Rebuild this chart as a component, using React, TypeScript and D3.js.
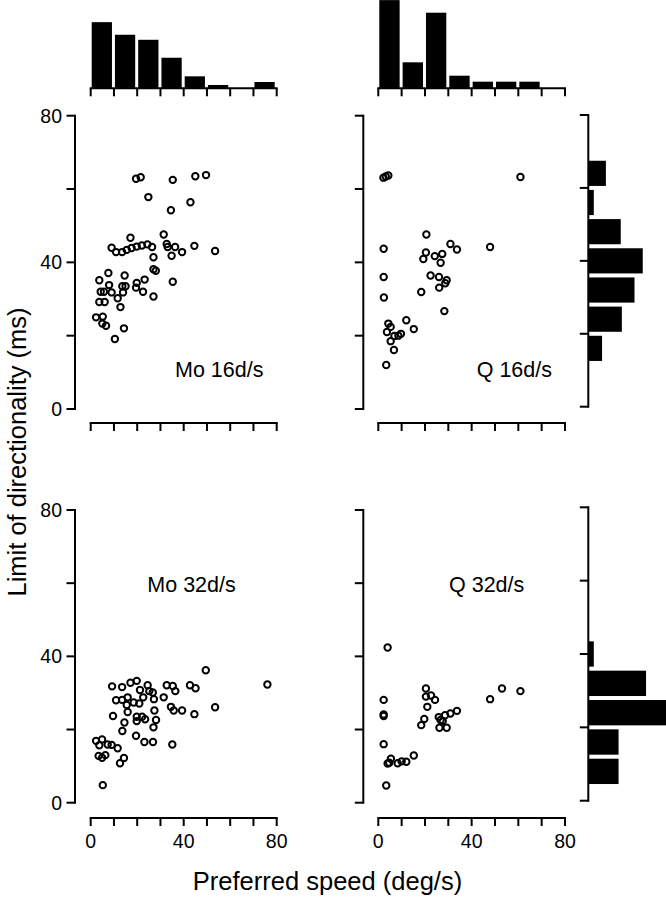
import React from 'react';
import * as d3 from 'd3';

// ---------- data ----------
const xTicks = [0, 10, 20, 30, 40, 50, 60, 70, 80];
const xTickLabels = [0, 40, 80];
const yTicks = [0, 20, 40, 60, 80];
const yTickLabels = [0, 40, 80];

const speedBinEdges = [0, 10, 20, 30, 40, 50, 60, 70, 80];
const moSpeedHist = [21, 17, 15.4, 9.7, 3.8, 1.05, 0, 2];
const qSpeedHist = [28, 8.25, 24, 4, 2.1, 2.1, 2.1, 0];

const limitBinWidth = 8;
const q16LimitBinStarts = [12, 20, 28, 36, 44, 52, 60];
const q16LimitHist = [2.5, 6.1, 8.4, 9.9, 5.9, 1.0, 3.2];
const q32LimitBinStarts = [4, 12, 20, 28, 36];
const q32LimitHist = [5.5, 5.5, 14.5, 10.5, 1.0];

const mo16Points: [number, number][] = [
  [19.5, 62.8], [21.5, 63.2], [35.3, 62.5], [45, 63.5], [49.6, 63.8], [24.8, 57.8], [42.9, 56.4],
  [34.5, 54.2], [17.1, 46.7], [31.4, 47.6], [9, 44], [10.9, 42.8], [13.5, 42.8], [15.5, 43.4],
  [17.6, 43.9], [19.8, 44.3], [22, 44.6], [24.4, 44.9], [26.4, 44.2], [27, 41.4], [32.7, 45],
  [33.1, 44.2], [36.3, 44.2], [34.8, 41.8], [39.3, 42.8], [44.6, 44.5], [53.5, 43.1], [27, 38.1],
  [28, 37.7], [35.3, 34.7], [3.7, 35.1], [7.6, 37.1], [7.9, 33.8], [4.3, 32], [5.7, 32], [9, 31.8],
  [3.7, 29.2], [6, 29.2], [11.6, 30.2], [12.8, 27.8], [13.6, 33.5], [14.6, 36.4], [15, 33.5],
  [13.9, 31.8], [19.8, 34.4], [19.5, 33.1], [23.2, 35.3], [22.5, 32], [27, 30.7], [2.3, 25],
  [5.2, 25.2], [5, 23.3], [6.6, 22.7], [14.3, 22], [10.4, 19.1],
];

const q16Points: [number, number][] = [
  [2.2, 63.1], [3.2, 63.4], [4.3, 63.7], [60.9, 63.3], [20.6, 47.6], [2.3, 43.7], [30.9, 45],
  [33.7, 43.5], [47.9, 44.2], [20.4, 42.7], [19.3, 40.9], [24.2, 41.7], [27.4, 42.3], [26.7, 39.9],
  [2.3, 36], [22.4, 36.4], [26, 36], [29.3, 35.1], [28.7, 34.3], [26.1, 33.1], [18.4, 31.9],
  [2.4, 30.4], [28.3, 26.7], [4.3, 23.3], [5.3, 22.4], [3.7, 21], [6.9, 19.9], [8.6, 20],
  [9.7, 20.5], [12, 24.2], [15.2, 21.8], [5.3, 18.5], [6.7, 16.1], [3.4, 12],
];

const mo32Points: [number, number][] = [
  [49.5, 36.2], [76, 32.3], [9.2, 31.8], [13.5, 31.6], [17.1, 32.8], [19.8, 33.3], [21.2, 30.8],
  [24.5, 32.1], [25.2, 30.5], [26.7, 30.1], [32.7, 32.1], [35.3, 31.9], [36.4, 30.5], [42.7, 32.1],
  [45.1, 31.3], [10.9, 28], [13.5, 28.1], [15.9, 28.8], [15.5, 26.7], [18.5, 27.4], [20.9, 27.1],
  [22.6, 28.8], [27.2, 28.3], [31.4, 28.8], [15.9, 24.8], [19.8, 23.5], [22.1, 23.5], [23.4, 22.8],
  [19.8, 22.3], [27.4, 25.2], [28.1, 22.6], [27, 20.6], [34.5, 26.2], [35.7, 25.2], [39.3, 25.2],
  [44.6, 24.2], [53.5, 26.1], [9.6, 23.7], [14.5, 21.9], [13.6, 19.6], [19.5, 18.3], [23.1, 16.6],
  [26.8, 16.6], [35.1, 15.9], [2.3, 16.9], [4.9, 17.3], [3.7, 15.7], [7.3, 15.9], [9, 15.8],
  [11.6, 14.9], [3.4, 12.8], [4.9, 12.3], [6.3, 13], [14.3, 12.2], [12.6, 10.8], [5.2, 4.8],
];

const q32Points: [number, number][] = [
  [4, 42.4], [2.3, 28.1], [2.3, 24.1], [2.3, 23.7], [2.3, 16], [3.4, 4.7], [20.4, 31.2], [20.4, 29],
  [22.6, 29.3], [24.3, 28.1], [21, 26.2], [19.7, 22.9], [18.4, 21.2], [25.9, 23.4], [26.7, 22.6],
  [28.6, 23.9], [30.9, 24.4], [33.7, 25.1], [26.2, 20.5], [29.3, 20.5], [27.6, 22.3], [47.9, 28.3],
  [53, 31.2], [60.9, 30.5], [4, 10.7], [5.4, 12], [4.7, 10.9], [8.3, 10.8], [10, 11.3], [12, 11.2],
  [15.2, 12.9],
];

// ---------- scales ----------
const xMo = d3.scaleLinear().domain([0, 80]).range([90.7, 276.7]);
const xQ = d3.scaleLinear().domain([0, 80]).range([378.3, 565]);
const yTop = d3.scaleLinear().domain([0, 80]).range([409, 115.7]);
const yBot = d3.scaleLinear().domain([0, 80]).range([802.7, 510]);
const yHistTop = d3.scaleLinear().domain([0, 80]).range([406.7, 115]);
const yHistBot = d3.scaleLinear().domain([0, 80]).range([800.7, 507.3]);
const topHistH = d3.scaleLinear().domain([0, 1]).range([0, 3.15]);
const rightHistW = d3.scaleLinear().domain([0, 1]).range([0, 5.5]);

const FONT = "'Liberation Sans', Arial, Helvetica, sans-serif";
const SW = 2;

function YAxis({ scale, x, labels }: { scale: d3.ScaleLinear<number, number>; x: number; labels: boolean }) {
  const [y0, y1] = scale.range();
  return (
    <g>
      <line x1={x} x2={x} y1={y0 + SW / 2} y2={y1 - SW / 2} stroke="#000" strokeWidth={SW} />
      {yTicks.map((t) => (
        <line key={t} x1={x - 8.5} x2={x} y1={scale(t)} y2={scale(t)} stroke="#000" strokeWidth={SW} />
      ))}
      {labels &&
        yTickLabels.map((t) => (
          <text key={'l' + t} x={x - 13} y={scale(t) + 7} textAnchor="end" fontSize={19.5} fontFamily={FONT}>
            {t}
          </text>
        ))}
    </g>
  );
}

function XAxis({ scale, y, labels }: { scale: d3.ScaleLinear<number, number>; y: number; labels: boolean }) {
  const [x0, x1] = scale.range();
  return (
    <g>
      <line x1={x0 - SW / 2} x2={x1 + SW / 2} y1={y} y2={y} stroke="#000" strokeWidth={SW} />
      {xTicks.map((t) => (
        <line key={t} x1={scale(t)} x2={scale(t)} y1={y} y2={y + 8} stroke="#000" strokeWidth={SW} />
      ))}
      {labels &&
        xTickLabels.map((t) => (
          <text key={'l' + t} x={scale(t)} y={y + 30} textAnchor="middle" fontSize={19.5} fontFamily={FONT}>
            {t}
          </text>
        ))}
    </g>
  );
}

function Scatter({ pts, xs, ys }: { pts: [number, number][]; xs: d3.ScaleLinear<number, number>; ys: d3.ScaleLinear<number, number> }) {
  return (
    <g>
      {pts.map((p, i) => (
        <circle key={i} cx={xs(p[0])} cy={ys(p[1])} r={3.2} fill="none" stroke="#000" strokeWidth={2} />
      ))}
    </g>
  );
}

function TopHist({ counts, xs }: { counts: number[]; xs: d3.ScaleLinear<number, number> }) {
  const base = 88.3;
  return (
    <g>
      {counts.map((c, i) =>
        c > 0 ? (
          <rect
            key={i}
            x={xs(speedBinEdges[i]) + 1}
            width={xs(speedBinEdges[i + 1]) - xs(speedBinEdges[i]) - 3}
            y={base - topHistH(c)}
            height={topHistH(c)}
            fill="#000"
          />
        ) : null
      )}
      <XAxis scale={xs} y={base} labels={false} />
    </g>
  );
}

function RightHist({ starts, counts, ys }: { starts: number[]; counts: number[]; ys: d3.ScaleLinear<number, number> }) {
  const ax = 588.3;
  return (
    <g>
      {counts.map((c, i) => {
        const yA = ys(starts[i] + limitBinWidth);
        const yB = ys(starts[i]);
        return <rect key={i} x={ax} y={yA + 2} width={rightHistW(c)} height={yB - yA - 4} fill="#000" />;
      })}
      <YAxis scale={ys} x={ax} labels={false} />
    </g>
  );
}

export default function App() {
  return (
    <svg width={666} height={900} style={{ position: 'absolute', left: 0, top: 0, background: '#fff' }}>
      <rect width={666} height={900} fill="#fff" />
      <TopHist counts={moSpeedHist} xs={xMo} />
      <TopHist counts={qSpeedHist} xs={xQ} />

      {/* top row */}
      <YAxis scale={yTop} x={75} labels={true} />
      <XAxis scale={xMo} y={423} labels={false} />
      <Scatter pts={mo16Points} xs={xMo} ys={yTop} />
      <text x={175} y={376.7} fontSize={21.5} fontFamily={FONT}>Mo 16d/s</text>

      <YAxis scale={yTop} x={363.3} labels={false} />
      <XAxis scale={xQ} y={423} labels={false} />
      <Scatter pts={q16Points} xs={xQ} ys={yTop} />
      <text x={476.7} y={376.7} fontSize={21.5} fontFamily={FONT}>Q 16d/s</text>
      <RightHist starts={q16LimitBinStarts} counts={q16LimitHist} ys={yHistTop} />

      {/* bottom row */}
      <YAxis scale={yBot} x={75} labels={true} />
      <XAxis scale={xMo} y={818} labels={true} />
      <Scatter pts={mo32Points} xs={xMo} ys={yBot} />
      <text x={147.3} y={591.7} fontSize={21.5} fontFamily={FONT}>Mo 32d/s</text>

      <YAxis scale={yBot} x={363.3} labels={false} />
      <XAxis scale={xQ} y={818} labels={true} />
      <Scatter pts={q32Points} xs={xQ} ys={yBot} />
      <text x={449} y={591.7} fontSize={21.5} fontFamily={FONT}>Q 32d/s</text>
      <RightHist starts={q32LimitBinStarts} counts={q32LimitHist} ys={yHistBot} />

      <text x={327.5} y={890} textAnchor="middle" fontSize={25.5} fontFamily={FONT}>
        Preferred speed (deg/s)
      </text>
      <text transform="translate(26,452) rotate(-90)" textAnchor="middle" fontSize={25.5} fontFamily={FONT}>
        Limit of directionality (ms)
      </text>
    </svg>
  );
}
